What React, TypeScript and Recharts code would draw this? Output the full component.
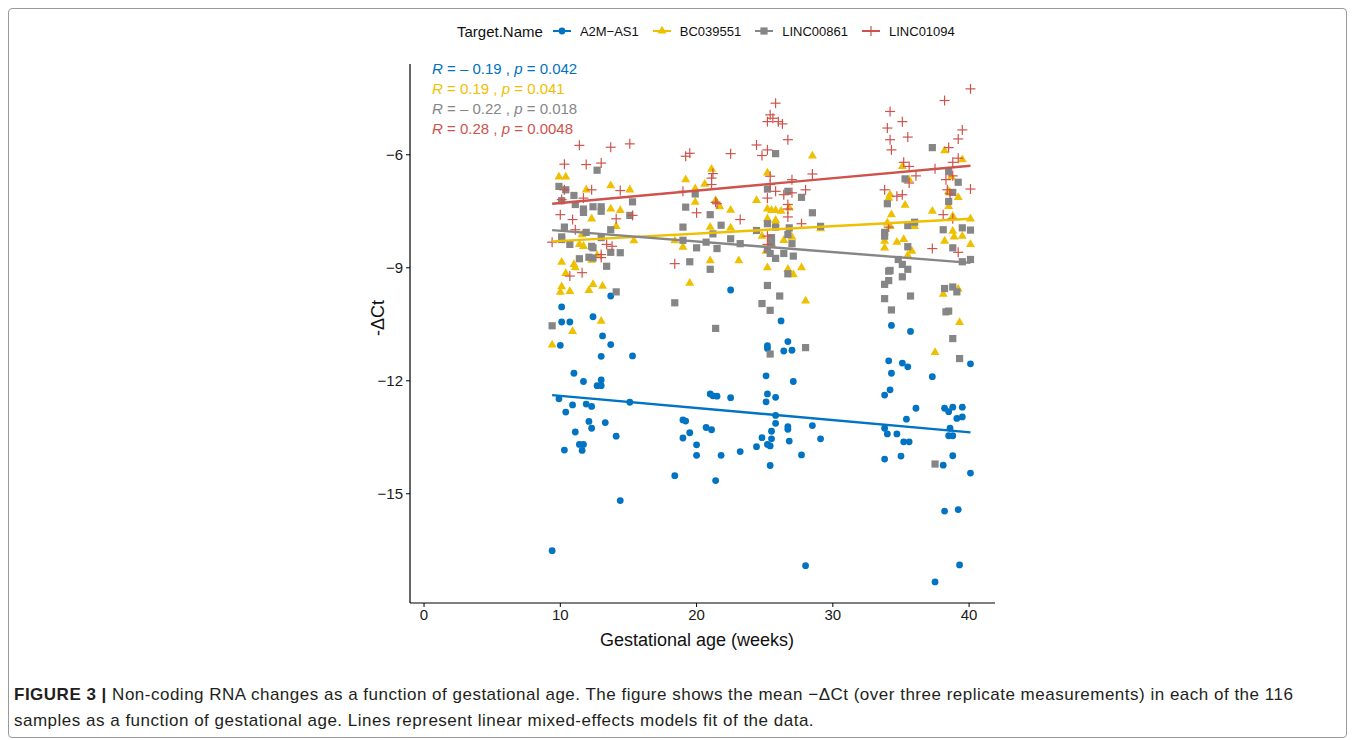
import { ScatterChart, Scatter, XAxis, YAxis } from "recharts";

const FONT = '"Liberation Sans", Arial, Helvetica, sans-serif';
const BLUE = "#0073C2";
const GOLD = "#EFC000";
const GREY = "#868686";
const RED = "#CD534C";

const X_TICKS = [0, 10, 20, 30, 40];
const Y_TICKS = [-15, -12, -9, -6];

// [gestational age, -dCt]
const A2M_AS1: [number, number][] = [
  [13.7, -9.75], [10.1, -10.04], [10.1, -10.44], [10.7, -10.44], [12.4, -10.3], [13.1, -10.81], [13.7, -11.04],
  [10.0, -11.06], [13.0, -11.35], [15.3, -11.34], [11.0, -11.8], [11.7, -12.02], [13.0, -11.98], [12.7, -12.13],
  [13.0, -12.13], [9.9, -12.48], [10.9, -12.64], [11.9, -12.62], [12.3, -12.68], [10.4, -12.83], [15.1, -12.57],
  [12.1, -13.08], [13.3, -13.11], [12.3, -13.26], [11.1, -13.36], [14.1, -13.47], [11.4, -13.69], [11.7, -13.69],
  [11.6, -13.85], [10.3, -13.84], [14.4, -15.18], [9.4, -16.51],
  [22.5, -9.59], [25.1, -11.87], [21.0, -12.35], [21.2, -12.4], [21.5, -12.41], [22.5, -12.45], [19.0, -13.04],
  [19.2, -13.07], [20.7, -13.24], [21.1, -13.3], [19.5, -13.38], [19.0, -13.52], [20.0, -13.7], [20.0, -13.98],
  [21.8, -13.98], [23.2, -13.88], [24.8, -13.51], [24.4, -13.75], [18.4, -14.52], [21.4, -14.65],
  [26.2, -10.41], [26.7, -10.96], [25.2, -11.07], [25.2, -11.14], [26.4, -11.21], [27.0, -11.19], [27.1, -12.02],
  [25.2, -12.35], [25.8, -12.44], [25.1, -12.56], [25.8, -12.92], [25.8, -13.13], [26.7, -13.22], [26.7, -13.29],
  [28.5, -13.19], [25.5, -13.34], [25.5, -13.54], [29.1, -13.54], [26.8, -13.6], [25.2, -13.69], [25.4, -13.73],
  [27.7, -13.97], [25.4, -14.25], [28.0, -16.91],
  [34.3, -10.53], [35.7, -10.69], [34.1, -11.47], [35.1, -11.53], [35.5, -11.63], [40.1, -11.55], [34.3, -11.8],
  [37.3, -11.89], [34.2, -12.24], [33.8, -12.38], [36.1, -12.73], [38.2, -12.73], [38.5, -12.82], [38.8, -12.7],
  [39.5, -12.7], [39.1, -13.0], [39.5, -12.96], [35.4, -13.02], [33.8, -13.26], [34.0, -13.41], [34.7, -13.41],
  [35.2, -13.62], [35.6, -13.62], [38.6, -13.26], [38.5, -13.46], [38.8, -13.46], [33.8, -14.08], [35.0, -14.0],
  [38.8, -13.99], [38.1, -14.24], [40.1, -14.45], [38.2, -15.46], [39.2, -15.42], [39.3, -16.89], [37.5, -17.34],
];

const BC039551: [number, number][] = [
  [9.9, -6.59], [10.4, -6.59], [11.9, -6.93], [13.7, -6.82], [15.1, -6.93], [13.7, -7.44], [14.4, -7.48],
  [12.3, -7.7], [14.1, -7.9], [11.6, -8.12], [15.4, -8.28], [11.4, -8.38], [11.7, -8.43], [12.3, -8.8],
  [12.7, -8.67], [10.1, -8.85], [11.0, -8.91], [11.1, -9.0], [10.4, -9.15], [10.1, -9.5], [10.0, -9.65],
  [10.7, -9.63], [12.1, -9.6], [12.4, -9.44], [13.1, -9.49], [13.0, -10.42], [10.9, -10.69], [9.4, -11.05],
  [19.2, -6.66], [21.1, -6.38], [19.9, -6.9], [20.6, -6.78], [25.2, -6.48], [19.9, -7.26], [21.4, -7.21],
  [21.7, -7.38], [22.5, -7.47], [24.4, -7.21], [25.2, -7.44], [25.5, -7.48], [25.8, -7.48], [21.0, -7.92],
  [22.5, -7.94], [25.2, -7.7], [25.8, -7.74], [18.4, -8.28], [19.0, -8.45], [24.8, -8.16], [21.0, -8.81],
  [23.1, -8.81], [25.2, -9.0], [19.5, -9.41],
  [28.5, -6.03], [26.2, -7.5], [26.8, -7.41], [25.8, -7.83], [29.1, -7.96], [26.4, -8.27], [27.0, -8.19],
  [25.5, -8.36], [25.1, -8.56], [26.7, -9.04], [27.1, -9.18], [27.7, -9.0], [28.0, -9.88],
  [38.2, -5.89], [39.5, -6.13], [35.1, -6.31], [35.6, -6.66], [34.2, -7.06], [34.1, -7.15], [35.3, -7.34],
  [38.7, -6.59], [38.5, -6.97], [38.6, -7.01], [39.2, -7.13], [38.5, -7.37], [37.3, -7.5], [34.3, -7.59],
  [38.8, -7.63], [40.1, -7.7], [36.0, -7.9], [34.0, -7.81], [34.2, -7.9], [38.8, -8.03], [35.2, -8.25],
  [34.7, -8.32], [38.2, -8.29], [38.9, -8.18], [39.5, -8.16], [33.8, -8.29], [33.8, -8.47], [35.6, -8.47],
  [35.8, -8.56], [40.1, -8.38], [35.5, -8.67], [38.1, -9.7], [39.2, -9.57], [39.3, -10.45], [37.5, -11.25],
];

const LINC00861: [number, number][] = [
  [12.7, -6.41], [9.9, -6.84], [10.4, -6.93], [11.0, -7.08], [15.3, -7.25], [10.1, -7.22], [11.1, -7.32],
  [11.7, -7.44], [11.7, -7.53], [12.4, -7.38], [13.0, -7.38], [13.0, -7.5], [15.1, -7.61], [10.3, -7.92],
  [13.7, -7.99], [11.9, -8.06], [10.1, -8.18], [10.1, -8.25], [13.0, -8.2], [10.7, -8.38], [12.3, -8.43],
  [12.4, -8.47], [13.7, -8.59], [14.4, -8.6], [11.4, -8.76], [12.1, -8.72], [12.4, -8.74], [13.4, -8.96],
  [14.1, -9.64], [9.4, -10.54],
  [25.8, -5.97], [19.9, -7.04], [25.2, -6.91], [19.2, -7.39], [21.0, -7.59], [21.8, -7.87], [19.0, -7.92],
  [21.2, -8.1], [25.2, -7.83], [25.8, -7.92], [24.4, -8.01], [22.5, -8.23], [19.0, -8.27], [20.7, -8.32],
  [23.2, -8.36], [25.5, -8.2], [25.5, -8.38], [20.0, -8.47], [21.5, -8.49], [25.2, -8.51], [25.4, -8.62],
  [25.8, -8.75], [19.5, -8.84], [21.0, -9.04], [25.2, -9.47], [18.4, -9.93], [24.8, -9.95], [25.4, -10.13],
  [21.4, -10.61], [25.4, -11.29], [26.1, -9.75],
  [26.7, -6.97], [27.7, -7.13], [28.5, -7.54], [26.8, -7.94], [29.1, -7.9], [26.7, -8.12], [27.0, -8.36],
  [26.4, -8.62], [27.1, -8.69], [26.7, -9.16], [28.0, -11.12],
  [37.3, -5.81], [38.5, -6.44], [39.2, -6.73], [35.3, -6.64], [38.8, -7.0], [38.5, -7.24], [34.0, -7.3],
  [36.0, -7.79], [35.5, -7.88], [33.8, -8.06], [33.8, -8.16], [38.1, -7.99], [39.5, -7.94], [40.1, -8.0],
  [35.5, -8.44], [38.8, -8.47], [34.8, -8.78], [35.1, -8.91], [39.5, -8.84], [40.1, -8.78], [35.5, -9.04],
  [34.1, -9.09], [34.2, -9.07], [35.1, -9.24], [34.1, -9.34], [33.8, -9.44], [38.2, -9.55], [38.8, -9.51],
  [39.1, -9.64], [35.7, -9.75], [33.8, -9.82], [34.3, -10.12], [38.3, -10.17], [38.5, -10.15], [38.8, -10.88],
  [39.3, -11.41], [37.5, -14.21],
];

const LINC01094: [number, number][] = [
  [11.4, -5.75], [13.7, -5.8], [15.1, -5.71], [10.3, -6.25], [11.9, -6.26], [13.0, -6.22], [10.3, -6.93],
  [12.3, -6.93], [14.4, -6.95], [10.1, -7.19], [11.7, -7.15], [10.0, -7.59], [10.9, -7.72], [14.1, -7.7],
  [15.3, -7.61], [11.1, -7.99], [9.4, -8.32], [13.4, -8.38], [13.8, -8.43], [13.0, -8.65], [13.0, -8.73],
  [11.6, -9.13], [10.7, -9.22],
  [24.4, -5.74], [25.2, -5.87], [24.8, -6.02], [19.2, -6.04], [19.5, -5.96], [22.5, -5.97], [21.2, -6.5],
  [21.1, -6.62], [21.1, -6.79], [25.4, -6.79], [25.8, -6.97], [19.0, -6.97], [25.2, -7.15], [21.4, -7.26],
  [21.5, -7.3], [20.0, -7.54], [23.2, -7.72], [25.2, -8.16], [25.2, -8.38], [18.4, -8.89],
  [25.8, -4.63], [25.4, -4.94], [25.2, -5.12], [25.6, -5.03], [26.0, -5.12], [26.3, -5.18], [26.7, -5.6],
  [28.5, -6.51], [25.4, -6.57], [27.0, -6.66], [28.0, -6.93], [26.4, -7.06], [27.0, -7.01], [26.7, -7.32],
  [26.7, -7.44], [26.7, -7.65], [27.7, -7.83],
  [40.1, -4.25], [38.2, -4.56], [34.2, -4.85], [35.1, -5.12], [34.0, -5.29], [35.5, -5.53], [34.2, -5.6],
  [34.3, -5.87], [39.5, -5.34], [39.2, -5.58], [38.5, -5.81], [35.2, -6.2], [35.6, -6.31], [39.2, -6.09],
  [38.8, -6.2], [37.5, -6.37], [36.1, -6.56], [35.6, -6.75], [38.3, -6.66], [38.8, -6.56], [33.8, -6.93],
  [40.1, -6.91], [38.4, -6.93], [38.6, -7.04], [34.7, -7.1], [35.1, -7.06], [38.1, -7.59], [38.8, -7.7],
  [34.1, -7.92], [37.3, -8.49], [39.2, -8.59],
];

// linear fit end points
const FIT_X = [9.4, 40.1];
const FIT_A2M = [-12.38, -13.37];
const FIT_BC = [-8.3, -7.7];
const FIT_00861 = [-8.0, -8.87];
const FIT_01094 = [-7.3, -6.29];

const TARGETS = ["A2M−AS1", "BC039551", "LINC00861", "LINC01094"];
const R_VALUES = ["– 0.19", "0.19", "– 0.22", "0.28"];
const P_VALUES = ["0.042", "0.041", "0.018", "0.0048"];
const COLORS = [BLUE, GOLD, GREY, RED];

const pts = (d: [number, number][]) => d.map(([x, y]) => ({ x, y }));
const fit = (ys: number[]) => FIT_X.map((x, i) => ({ x, y: ys[i] }));

const Dot = (p: any) => <circle cx={p.cx} cy={p.cy} r={3.4} fill={BLUE} />;
const Tri = (p: any) => (
  <polygon
    points={`${p.cx},${p.cy - 5.2} ${p.cx - 4.5},${p.cy + 2.6} ${p.cx + 4.5},${p.cy + 2.6}`}
    fill={GOLD}
  />
);
const Sq = (p: any) => <rect x={p.cx - 3.6} y={p.cy - 3.6} width={7.2} height={7.2} fill={GREY} />;
const Cross = (p: any) => (
  <g stroke={RED} strokeWidth={1.2}>
    <line x1={p.cx - 5} x2={p.cx + 5} y1={p.cy} y2={p.cy} />
    <line x1={p.cx} x2={p.cx} y1={p.cy - 5} y2={p.cy + 5} />
  </g>
);
const Nothing = () => <g />;

const SHAPES = [Dot, Tri, Sq, Cross];

function KeyIcon({ i }: { i: number }) {
  const Shape = SHAPES[i];
  return (
    <svg width={18} height={12} style={{ display: "block" }}>
      <line x1={0} x2={18} y1={6} y2={6} stroke={COLORS[i]} strokeWidth={2} />
      <Shape cx={9} cy={6} />
    </svg>
  );
}

const fmt = (v: number) => String(v).replace("-", "−");

export default function App() {
  const tick = { fill: "#1a1a1a", fontSize: 15, fontFamily: FONT };
  return (
    <div
      style={{
        position: "relative",
        width: 1339,
        height: 730,
        border: "1px solid #9a9a9a",
        borderRadius: 4,
        boxSizing: "border-box",
        fontFamily: FONT,
        background: "#fff",
      }}
    >
      {/* legend */}
      <div style={{ position: "absolute", left: 448, top: 12, display: "flex", alignItems: "center", height: 20 }}>
        <span style={{ fontSize: 15, color: "#111", marginRight: 10 }}>Target.Name</span>
        {TARGETS.map((t, i) => (
          <span key={t} style={{ display: "flex", alignItems: "center", marginRight: 14 }}>
            <KeyIcon i={i} />
            <span style={{ fontSize: 13, color: "#111", marginLeft: 9 }}>{t}</span>
          </span>
        ))}
      </div>

      <div style={{ position: "absolute", left: 321, top: 41 }}>
        <ScatterChart width={700} height={620} margin={{ top: 14, right: 35, bottom: 0, left: 0 }}>
          <XAxis
            type="number"
            dataKey="x"
            domain={[-1.03, 41.9]}
            ticks={X_TICKS}
            allowDataOverflow
            height={67}
            tick={tick}
            tickSize={4}
            tickMargin={2}
            axisLine={{ stroke: "#000", strokeWidth: 1.2 }}
            tickLine={{ stroke: "#000" }}
          />
          <YAxis
            type="number"
            dataKey="y"
            domain={[-17.9, -3.59]}
            ticks={Y_TICKS}
            allowDataOverflow
            width={80}
            tick={tick}
            tickFormatter={fmt}
            tickSize={4}
            tickMargin={3}
            axisLine={{ stroke: "#000", strokeWidth: 1.2 }}
            tickLine={{ stroke: "#000" }}
          />
          <Scatter name={TARGETS[0]} data={pts(A2M_AS1)} shape={Dot} isAnimationActive={false} />
          <Scatter name={TARGETS[1]} data={pts(BC039551)} shape={Tri} isAnimationActive={false} />
          <Scatter name={TARGETS[2]} data={pts(LINC00861)} shape={Sq} isAnimationActive={false} />
          <Scatter name={TARGETS[3]} data={pts(LINC01094)} shape={Cross} isAnimationActive={false} />
          <Scatter data={fit(FIT_A2M)} line={{ stroke: BLUE, strokeWidth: 2.4 }} shape={Nothing} isAnimationActive={false} />
          <Scatter data={fit(FIT_BC)} line={{ stroke: GOLD, strokeWidth: 2.4 }} shape={Nothing} isAnimationActive={false} />
          <Scatter data={fit(FIT_00861)} line={{ stroke: GREY, strokeWidth: 2.4 }} shape={Nothing} isAnimationActive={false} />
          <Scatter data={fit(FIT_01094)} line={{ stroke: RED, strokeWidth: 2.4 }} shape={Nothing} isAnimationActive={false} />
        </ScatterChart>
      </div>

      {/* correlation labels */}
      <div style={{ position: "absolute", left: 423, top: 50, fontSize: 15, lineHeight: "20px" }}>
        {R_VALUES.map((r, i) => (
          <div key={i} style={{ color: COLORS[i], whiteSpace: "pre" }}>
            <i>R</i> = {r} , <i>p</i> = {P_VALUES[i]}
          </div>
        ))}
      </div>

      {/* axis titles */}
      <div
        style={{
          position: "absolute",
          left: 369 - 40,
          top: 309 - 11,
          width: 80,
          textAlign: "center",
          fontSize: 18,
          lineHeight: "22px",
          color: "#111",
          transform: "rotate(-90deg)",
        }}
      >
        -ΔCt
      </div>
      <div
        style={{
          position: "absolute",
          left: 688 - 150,
          top: 631 - 11,
          width: 300,
          textAlign: "center",
          fontSize: 18,
          lineHeight: "22px",
          color: "#111",
        }}
      >
        Gestational age (weeks)
      </div>

      {/* caption */}
      <div
        style={{
          position: "absolute",
          left: 5,
          top: 673,
          fontSize: 17,
          letterSpacing: 0.5,
          lineHeight: "26px",
          color: "#231f20",
          whiteSpace: "nowrap",
        }}
      >
        <b>FIGURE 3 |</b> Non-coding RNA changes as a function of gestational age. The figure shows the mean −ΔCt (over
        three replicate measurements) in each of the 116
        <br />
        samples as a function of gestational age. Lines represent linear mixed-effects models fit of the data.
      </div>
    </div>
  );
}
